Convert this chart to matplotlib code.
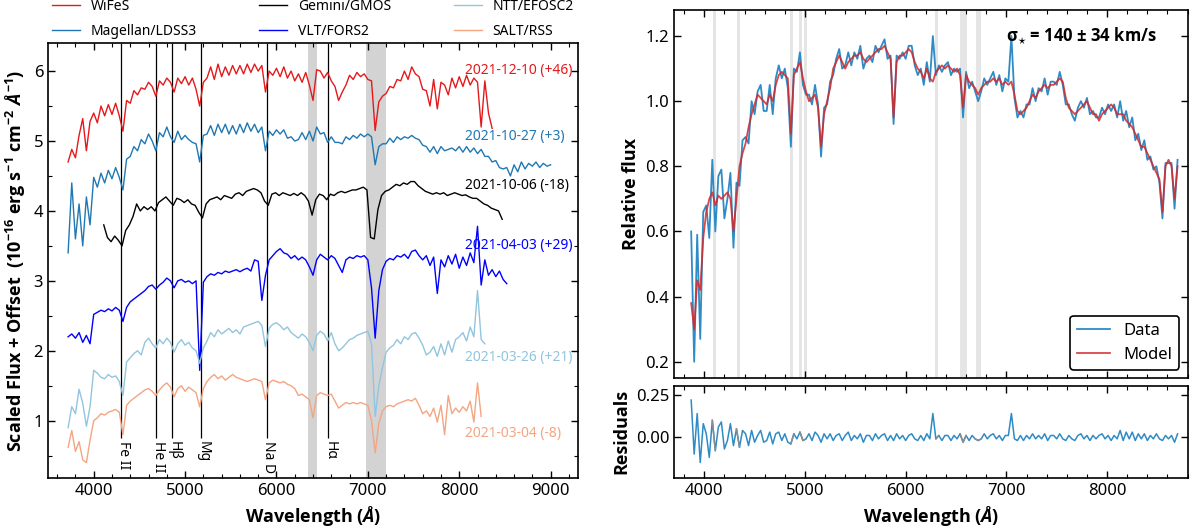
import numpy as np
import matplotlib.pyplot as plt
from matplotlib import font_manager
from matplotlib.ticker import MultipleLocator, FormatStrFormatter


def pick_bold(cands):
    # first family in the list that really has a bold face installed
    for name in cands:
        for f in font_manager.fontManager.ttflist:
            w = f.weight
            if isinstance(w, str):
                w = font_manager.weight_dict.get(w, 400)
            if f.name == name and w >= 600 and f.style == 'normal':
                return name
    return 'DejaVu Sans'


bold_family = pick_bold(['Noto Sans', 'Open Sans', 'Lato', 'Roboto', 'Inter', 'DejaVu Sans'])

plt.rcParams['font.family'] = ['Noto Sans', 'DejaVu Sans']
plt.rcParams['mathtext.fontset'] = 'custom'
plt.rcParams['mathtext.rm'] = bold_family + ':bold'
plt.rcParams['mathtext.it'] = bold_family + ':italic:bold'
plt.rcParams['mathtext.bf'] = bold_family + ':bold'
bold = dict(family=[bold_family, 'DejaVu Sans'], fontweight='bold')

# ---- left panel: spectra sequence (40 A grid from a start wavelength) ----
step_left = 40

wifes_start = 3720
wifes_flux = [4.70, 4.88, 4.76, 5.08, 5.32, 4.86, 5.28, 5.40, 5.26, 5.50, 5.36, 5.52, 5.38, 5.54, 5.36,
              5.14, 5.58, 5.54, 5.72, 5.66, 5.76, 5.74, 5.84, 5.78, 5.64, 5.86, 5.80, 5.90, 5.84, 5.70,
              5.90, 5.82, 5.92, 5.80, 5.90, 5.74, 5.50, 5.84, 5.90, 6.06, 5.88, 6.10, 5.92, 6.06, 5.94,
              6.08, 5.96, 6.08, 5.96, 6.10, 5.98, 6.10, 6.00, 6.08, 5.70, 6.00, 5.94, 6.04, 5.92, 6.06,
              5.90, 6.00, 5.86, 5.96, 5.84, 5.98, 5.80, 5.58, 6.02, 6.00, 5.90, 5.98, 5.86, 5.78, 5.58,
              5.70, 5.80, 5.94, 5.88, 5.98, 5.92, 5.96, 5.88, 5.86, 5.15, 5.56, 5.64, 5.68, 5.78, 5.76,
              5.88, 5.86, 6.00, 5.88, 6.06, 5.96, 5.92, 5.74, 5.72, 5.50, 5.88, 5.46, 5.84, 5.80, 5.66,
              5.90, 5.76, 5.92, 5.78, 5.94, 5.80, 5.90, 5.84, 5.20, 5.86, 5.40, 5.18]

ldss3_start = 3720
ldss3_flux = [3.40, 4.40, 3.60, 4.10, 3.50, 4.20, 3.80, 4.48, 4.34, 4.54, 4.40, 4.58, 4.46, 4.62, 4.48,
              4.30, 4.74, 4.78, 4.92, 4.86, 5.02, 4.96, 5.10, 5.00, 4.86, 5.12, 5.06, 5.20, 5.06, 4.98,
              5.14, 5.02, 5.08, 5.02, 4.98, 4.96, 4.70, 5.08, 5.10, 5.22, 5.08, 5.24, 5.12, 5.24, 5.10,
              5.22, 5.10, 5.24, 5.12, 5.26, 5.14, 5.24, 5.12, 5.20, 4.86, 5.14, 5.08, 5.16, 5.10, 5.16,
              5.04, 5.06, 5.00, 5.02, 5.12, 5.02, 5.14, 5.00, 5.20, 5.10, 5.12, 4.98, 5.06, 4.98, 4.98,
              4.96, 5.06, 5.02, 5.08, 5.04, 5.10, 5.06, 5.10, 5.06, 4.66, 4.92, 4.96, 4.96, 5.04, 4.98,
              5.06, 5.02, 5.06, 5.04, 5.08, 5.04, 5.02, 4.94, 4.92, 4.84, 4.92, 4.82, 4.92, 4.86, 4.88,
              4.90, 4.86, 4.92, 4.84, 4.92, 4.84, 4.90, 4.82, 4.88, 4.78, 4.78, 4.70, 4.72, 4.62, 4.60,
              4.62, 4.50, 4.66, 4.56, 4.70, 4.60, 4.68, 4.64, 4.70, 4.62, 4.68, 4.64, 4.66]

gmos_start = 4110
gmos_flux = [3.80, 3.62, 3.56, 3.64, 3.58, 3.50, 3.72, 3.80, 3.92, 4.10, 4.00, 4.06, 4.02, 4.06, 4.00,
             4.12, 4.16, 4.20, 4.14, 4.08, 4.18, 4.16, 4.12, 4.16, 4.10, 4.08, 3.98, 3.90, 4.10, 4.16,
             4.18, 4.20, 4.16, 4.22, 4.20, 4.18, 4.24, 4.26, 4.22, 4.28, 4.30, 4.32, 4.30, 4.26, 4.14,
             4.08, 4.24, 4.26, 4.22, 4.26, 4.24, 4.22, 4.25, 4.22, 4.26, 4.22, 4.14, 3.94, 4.16, 4.24,
             4.22, 4.16, 4.24, 4.22, 4.26, 4.28, 4.26, 4.28, 4.30, 4.30, 4.32, 4.34, 4.30, 3.62, 3.60,
             4.02, 4.22, 4.28, 4.30, 4.34, 4.38, 4.36, 4.40, 4.38, 4.42, 4.42, 4.36, 4.32, 4.28, 4.26,
             4.24, 4.26, 4.24, 4.26, 4.22, 4.24, 4.26, 4.24, 4.22, 4.23, 4.20, 4.18, 4.18, 4.14, 4.10,
             4.08, 4.04, 4.02, 4.00, 3.88]

fors2_start = 3720
fors2_flux = [2.20, 2.24, 2.18, 2.26, 2.12, 2.22, 2.10, 2.52, 2.55, 2.58, 2.56, 2.60, 2.57, 2.62, 2.58,
              2.42, 2.62, 2.70, 2.74, 2.78, 2.82, 2.86, 2.92, 2.94, 2.88, 2.94, 2.98, 3.04, 3.00, 2.90,
              3.00, 3.02, 2.98, 3.00, 2.96, 3.00, 1.72, 2.98, 3.06, 3.10, 3.08, 3.12, 3.10, 3.14, 3.12,
              3.14, 3.16, 3.13, 3.16, 3.18, 3.14, 3.30, 3.28, 2.72, 3.08, 3.30, 3.36, 3.42, 3.46, 3.40,
              3.38, 3.32, 3.36, 3.30, 3.34, 3.30, 3.20, 3.08, 3.30, 3.38, 3.34, 3.30, 3.36, 3.32, 3.22,
              3.12, 3.30, 3.34, 3.32, 3.36, 3.34, 3.36, 3.30, 2.90, 2.18, 2.86, 3.16, 3.28, 3.32, 3.30,
              3.36, 3.34, 3.38, 3.32, 3.42, 3.44, 3.36, 3.30, 3.36, 3.22, 3.34, 2.82, 3.30, 3.20, 3.36,
              3.24, 3.38, 3.18, 3.34, 3.22, 3.40, 3.26, 3.78, 2.94, 3.30, 3.08, 3.16, 3.06, 3.14, 3.02,
              2.96]

efosc2_start = 3720
efosc2_flux = [0.90, 1.20, 1.10, 1.45, 1.25, 0.92, 1.20, 1.72, 1.68, 1.62, 1.60, 1.66, 1.62, 1.64, 1.56,
               1.36, 1.84, 1.90, 1.96, 2.00, 1.94, 2.12, 2.18, 2.10, 2.04, 2.16, 2.10, 2.18, 2.12, 1.98,
               2.10, 2.16, 2.08, 2.12, 2.04, 2.00, 1.82, 2.04, 2.14, 2.26, 2.20, 2.30, 2.24, 2.28, 2.32,
               2.26, 2.30, 2.24, 2.34, 2.36, 2.38, 2.40, 2.42, 2.36, 2.06, 2.32, 2.38, 2.40, 2.36, 2.30,
               2.34, 2.26, 2.22, 2.18, 2.24, 2.20, 2.12, 2.00, 2.22, 2.28, 2.24, 2.14, 2.26, 2.10, 2.00,
               2.04, 2.10, 2.16, 2.18, 2.22, 2.24, 2.26, 2.28, 2.10, 1.06, 1.50, 1.76, 1.98, 2.04, 2.08,
               2.16, 2.10, 2.20, 2.16, 2.24, 2.26, 2.18, 2.08, 1.94, 1.98, 2.06, 1.92, 2.10, 1.94, 2.14,
               1.98, 2.16, 2.20, 2.26, 2.14, 2.34, 2.20, 2.86, 2.16, 2.10]

rss_start = 3720
rss_flux = [0.62, 0.86, 0.56, 0.70, 0.44, 0.40, 0.72, 1.00, 1.04, 1.10, 1.08, 1.12, 1.14, 1.16, 1.12,
            0.80, 1.22, 1.28, 1.32, 1.36, 1.40, 1.44, 1.46, 1.42, 1.36, 1.44, 1.50, 1.54, 1.48, 1.34,
            1.46, 1.50, 1.42, 1.48, 1.44, 1.40, 1.20, 1.46, 1.56, 1.62, 1.66, 1.60, 1.64, 1.58, 1.62,
            1.66, 1.62, 1.60, 1.58, 1.56, 1.58, 1.60, 1.58, 1.56, 1.30, 1.54, 1.58, 1.56, 1.54, 1.56,
            1.52, 1.50, 1.46, 1.36, 1.38, 1.34, 1.30, 1.04, 1.36, 1.40, 1.38, 1.36, 1.38, 1.28, 1.18,
            1.22, 1.26, 1.24, 1.26, 1.24, 1.26, 1.24, 1.22, 1.00, 0.54, 0.96, 1.14, 1.20, 1.22, 1.20,
            1.24, 1.26, 1.28, 1.30, 1.28, 1.32, 1.22, 1.10, 1.14, 1.06, 1.18, 0.98, 1.22, 0.80, 1.36,
            1.10, 1.18, 1.12, 1.20, 1.14, 1.28, 0.98, 1.54, 1.06]

instruments = ['WiFeS', 'Magellan/LDSS3', 'Gemini/GMOS', 'VLT/FORS2', 'NTT/EFOSC2', 'SALT/RSS']
epochs = ['2021-12-10 (+46)', '2021-10-27 (+3)', '2021-10-06 (-18)',
          '2021-04-03 (+29)', '2021-03-26 (+21)', '2021-03-04 (-8)']
epoch_y = [6.01, 5.07, 4.36, 3.51, 1.91, 0.81]
colors = ['#e31a1c', '#1f78b4', 'black', '#0000ff', '#92c5de', '#f4a582']
starts = [wifes_start, ldss3_start, gmos_start, fors2_start, efosc2_start, rss_start]
fluxes = [wifes_flux, ldss3_flux, gmos_flux, fors2_flux, efosc2_flux, rss_flux]

line_names = ['Fe II', 'He II', 'Hβ', 'Mg', 'Na D', 'Hα']
line_waves = [4302, 4686, 4861, 5172, 5892, 6563]
telluric = [(6340, 6440), (6980, 7200)]

# ---- right panel: fit (30 A grid) ----
fit_start = 3870
fit_step = 30
fit_data = [0.60, 0.20, 0.59, 0.27, 0.66, 0.68, 0.58, 0.82, 0.60, 0.77, 0.79, 0.64, 0.70, 0.78, 0.55,
            0.75, 0.74, 0.88, 0.89, 0.87, 1.00, 0.96, 1.03, 1.05, 0.97, 0.97, 1.05, 0.96, 1.07, 1.11,
            1.07, 1.10, 1.04, 0.86, 1.10, 1.09, 1.15, 1.05, 1.02, 1.02, 0.99, 1.05, 0.99, 0.83, 0.98,
            0.99, 1.06, 1.08, 1.13, 1.16, 1.10, 1.11, 1.15, 1.11, 1.15, 1.13, 1.17, 1.10, 1.13, 1.14,
            1.12, 1.17, 1.15, 1.17, 1.19, 1.13, 1.14, 0.93, 1.14, 1.13, 1.15, 1.13, 1.17, 1.17, 1.11,
            1.08, 1.10, 1.05, 1.12, 1.06, 1.20, 1.08, 1.11, 1.09, 1.11, 1.12, 1.08, 1.10, 1.09, 1.10,
            0.95, 1.09, 1.04, 1.06, 1.03, 1.00, 1.03, 1.07, 1.05, 1.07, 1.09, 1.05, 1.08, 1.03, 1.07,
            1.06, 1.20, 1.01, 0.95, 0.97, 0.95, 0.99, 0.99, 1.04, 1.00, 1.04, 1.03, 1.07, 1.02, 1.06,
            1.06, 1.05, 1.09, 1.05, 0.99, 0.99, 0.96, 0.94, 0.98, 1.00, 0.98, 1.01, 0.96, 0.97, 0.95,
            0.95, 0.98, 0.96, 0.99, 0.97, 0.99, 0.95, 1.00, 0.94, 0.97, 0.92, 0.95, 0.88, 0.90, 0.85,
            0.88, 0.82, 0.83, 0.79, 0.80, 0.75, 0.64, 0.81, 0.81, 0.81, 0.67, 0.82]
fit_model = [0.38, 0.30, 0.45, 0.42, 0.58, 0.66, 0.70, 0.72, 0.68, 0.71, 0.70, 0.71, 0.72, 0.70, 0.60,
             0.70, 0.80, 0.84, 0.87, 0.92, 0.96, 0.99, 1.02, 1.01, 1.00, 0.99, 1.02, 1.00, 1.05, 1.08,
             1.09, 1.08, 1.07, 0.90, 1.08, 1.10, 1.12, 1.07, 1.03, 1.00, 1.01, 1.02, 0.98, 0.86, 0.96,
             1.00, 1.04, 1.10, 1.12, 1.14, 1.12, 1.10, 1.12, 1.13, 1.14, 1.14, 1.15, 1.13, 1.12, 1.13,
             1.14, 1.15, 1.16, 1.16, 1.17, 1.15, 1.13, 0.95, 1.12, 1.14, 1.14, 1.15, 1.16, 1.15, 1.12,
             1.10, 1.09, 1.07, 1.10, 1.07, 1.06, 1.09, 1.10, 1.11, 1.10, 1.11, 1.10, 1.09, 1.10, 1.08,
             0.98, 1.08, 1.06, 1.05, 1.04, 1.02, 1.04, 1.05, 1.06, 1.06, 1.07, 1.06, 1.07, 1.05, 1.06,
             1.05, 1.06, 1.02, 0.97, 0.96, 0.97, 0.98, 1.00, 1.02, 1.01, 1.03, 1.04, 1.05, 1.04, 1.05,
             1.05, 1.06, 1.07, 1.06, 1.01, 0.98, 0.97, 0.96, 0.97, 0.98, 0.99, 1.00, 0.98, 0.96, 0.96,
             0.94, 0.96, 0.97, 0.98, 0.99, 0.98, 0.96, 0.96, 0.96, 0.94, 0.93, 0.92, 0.90, 0.88, 0.86,
             0.86, 0.84, 0.82, 0.80, 0.78, 0.76, 0.66, 0.80, 0.82, 0.80, 0.70, 0.80]
mask_centers = [4102, 4341, 4862, 4960, 5008, 6302, 6570, 6725]
mask_widths = [30, 30, 30, 30, 30, 30, 70, 50]
sigma_text = r'$\mathrm{\sigma}_{\star}$ = 140 ± 34 km/s'

fig = plt.figure(figsize=(12, 5.31), dpi=100)
ax = fig.add_axes([0.04, 0.0998, 0.4417, 0.819])
axf = fig.add_axes([0.5617, 0.2881, 0.428, 0.6931])
axr = fig.add_axes([0.5617, 0.1004, 0.428, 0.1733], sharex=axf)

ylo, yhi = 0.18, 6.4
for a, b in telluric:
    ax.axvspan(a, b, color='#d3d3d3', lw=0, zorder=0)
for name, wl in zip(line_names, line_waves):
    ax.vlines(wl, 0.75, yhi, color='black', lw=0.9, zorder=1)
    ax.text(wl + 20, 0.71, name, rotation=270, ha='center', va='top', fontsize=10)

for inst, ep, ey, c, s, f in zip(instruments, epochs, epoch_y, colors, starts, fluxes):
    wave = s + step_left * np.arange(len(f))
    ax.plot(wave, f, color=c, lw=1.0, label=inst, zorder=2)
    ax.text(8060, ey, ep, color=c, fontsize=10, va='center', ha='left')

ax.set_xlim(3500, 9300)
ax.set_ylim(ylo, yhi)
ax.xaxis.set_minor_locator(MultipleLocator(200))
ax.yaxis.set_minor_locator(MultipleLocator(0.5))
ax.set_xlabel(r'Wavelength ($\mathit{Å}$)', fontsize=13, **bold)
ax.set_ylabel(r'Scaled Flux + Offset  (10$^{-16}$ erg s$^{-1}$ cm$^{-2}$ $\mathit{Å}^{-1}$)',
              fontsize=13, **bold)
ax.legend(loc='lower left', bbox_to_anchor=(0, 1.0, 1, 0.2), mode='expand', ncol=3,
          frameon=False, fontsize=10, borderpad=0, handlelength=2.0, labelspacing=0.7,
          borderaxespad=0.3)

# right top
fw = fit_start + fit_step * np.arange(len(fit_data))
fd = np.array(fit_data)
fm = np.array(fit_model)
for c0, w0 in zip(mask_centers, mask_widths):
    axf.axvspan(c0 - w0 / 2, c0 + w0 / 2, color='#e5e5e5', lw=0, zorder=0)
axf.plot(fw, fd, color='#2f8bc6', lw=1.3, label='Data', zorder=2)
axf.plot(fw, fm, color='#d62728', lw=1.3, alpha=0.85, label='Model', zorder=3)
axf.set_xlim(3700, 8800)
axf.set_ylim(0.15, 1.28)
axf.yaxis.set_major_locator(MultipleLocator(0.2))
axf.yaxis.set_major_formatter(FormatStrFormatter('%.1f'))
axf.set_ylabel('Relative flux', fontsize=13, **bold)
axf.text(0.94, 0.93, sigma_text, transform=axf.transAxes, ha='right', va='center',
         fontsize=12, **bold)
leg = axf.legend(loc='lower right', fontsize=12, frameon=True, fancybox=True,
                 framealpha=1, edgecolor='black')
leg.get_frame().set_linewidth(1.2)
plt.setp(axf.get_xticklabels(), visible=False)

# residuals
resid = fd - fm
axr.plot(fw, resid, color='#2f8bc6', lw=1.1, zorder=2)
near = np.zeros(len(fw), dtype=bool)
for c0, w0 in zip(mask_centers, mask_widths):
    near |= np.abs(fw - c0) <= w0 / 2 + 15
axr.plot(fw, np.where(near, resid, np.nan), color='#8c8c8c', lw=1.1, zorder=3)
axr.set_ylim(-0.24, 0.305)
axr.yaxis.set_major_locator(MultipleLocator(0.25))
axr.yaxis.set_major_formatter(FormatStrFormatter('%.2f'))
axr.set_ylabel('Residuals', fontsize=13, **bold)
axr.set_xlabel(r'Wavelength ($\mathit{Å}$)', fontsize=13, **bold)
axf.xaxis.set_minor_locator(MultipleLocator(200))

for a in (ax, axf, axr):
    a.tick_params(which='both', direction='in', top=True, right=True, labelsize=12)
    a.tick_params(which='major', length=5, width=1)
    a.tick_params(which='minor', length=3, width=0.8)
    for sp in a.spines.values():
        sp.set_linewidth(1.2)

fig.savefig('out.png', dpi=100)
